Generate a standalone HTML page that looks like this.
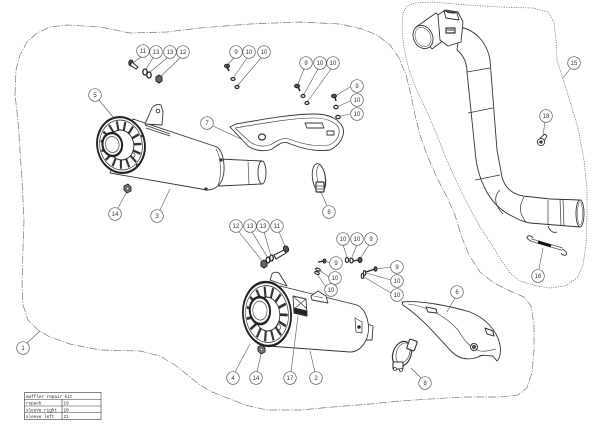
<!DOCTYPE html>
<html><head><meta charset="utf-8"><style>
html,body{margin:0;padding:0;background:#fff;}
svg{display:block}
</style></head><body>
<svg width="600" height="424" viewBox="0 0 600 424" xmlns="http://www.w3.org/2000/svg">
<rect width="600" height="424" fill="#fff"/>

<polyline fill="none" stroke="#777" stroke-width="0.7" stroke-dasharray="8,1.5,1.2,1.5" stroke-linejoin="round"
points="15,95 16,70 20,55 27,42 37,33 50,27 67,25 100,27 130,33 167,32 200,28 250,24 300,22 340,24 362,29 377,35 390,45 399,58 406,75 411,95 415,115 420,135 427,155 437,178 447,197 455,215 461,235 469,255 480,272 494,283 510,291 524,297 531,306 534,325 534,350 532,372 527,388 518,395 500,397 463,397 430,399 400,401 370,404 333,407 300,410 267,410 245,405 230,399 212,392 200,385 185,373 175,365 160,356 140,351 100,350 70,344 50,337 38,330 28,320 23,305 22,283 23,250 24,220 22,180 20,150 18,120 15,95"/>
<polyline fill="none" stroke="#666" stroke-width="0.7" stroke-dasharray="1.2,1.2" stroke-linejoin="round"
points="403,13 407,6 415,3 433,2 467,5 500,7 533,8 548,12 554,22 556,40 557,60 562,76 569,98 578,128 584,160 587,190 587,215 586,245 583,265 577,278 565,286 550,288 537,286 520,281 510,273 500,258 490,242 480,227 467,203 456,180 446,158 437,135 427,112 417,91 409,70 404,48 402,30 403,13"/>

<g stroke="#333" stroke-width="0.9" fill="#fff" stroke-linejoin="round">
  <path d="M457,50 C463,55 467,62 467,72 L475,150 C477,180 490,205 510,215 C518,219 523,222 530,223 L580,227 L580,200 L550,199 L523,196 C512,194 505,188 502,177 L497,150 L490,60 C487,42 475,30 460,27 Z"/>
  <path d="M467,72 L490,68 M468,113 L493,108 M475,180 L500,175" fill="none" stroke-width="0.7"/>
  <path d="M500,190 Q490,200 503,214 M524,197 Q516,210 526,222 M548,200 L548,225 M560,199 L561,226 M563,199 L564,226" fill="none" stroke-width="0.7"/>
  <ellipse cx="580" cy="213.5" rx="4" ry="13.5"/>
  <ellipse cx="580" cy="213.5" rx="2.5" ry="11.5" fill="none" stroke-width="0.5"/>
  <path d="M548,226 Q551,234 557,232" fill="none"/>
  <path d="M416,27 L436,13 L457,30 L432,49 Z"/>
  <path d="M438,15 L445,10 L458,12 L463,22 L461,42 L448,46 L440,40 Z"/>
  <path d="M444,11 L457,13 L459,20 L446,18 Z"/>
  <path d="M447,12 L455,13" stroke-width="1.5"/>
  <rect x="446" y="28" width="9" height="5" stroke-width="1.2"/>
  <path d="M447,30 L454,30" stroke-width="1"/>
  <ellipse cx="423" cy="37" rx="9.5" ry="12" transform="rotate(-25 423 37)"/>
  <ellipse cx="423" cy="37" rx="7.5" ry="10" transform="rotate(-25 423 37)" fill="none" stroke-width="0.5"/>
</g>

<g stroke="#333" fill="none" stroke-width="0.9">
  <path d="M531,241 Q525,238 528,236 Q531,235 533,238"/>
  <path d="M531,240 L562,249" stroke-width="3.2" stroke="#555"/>
  <path d="M531,240 L562,249" stroke-width="1.6" stroke="#fff"/>
  <path d="M538,242 L551,246" stroke-width="3" stroke="#111"/>
  <path d="M562,249 Q568,252 566,255 Q563,256 561,253"/>
</g>
<g stroke="#333" stroke-width="0.9" fill="#fff">
  <path d="M540,138 L545,134 L547,136 L544,141"/>
  <circle cx="541" cy="142" r="3.6"/>
  <circle cx="541" cy="142" r="1.2" fill="#333"/>
</g>

<g stroke="#333" stroke-width="0.9" fill="#fff" stroke-linejoin="round">
  <path d="M219,159 L262,161 L261,184 L219,186 Z"/>
  <path d="M248,161.5 L249,184.5" fill="none" stroke-width="0.6"/>
  <ellipse cx="262" cy="172.5" rx="4" ry="11.5"/>
  <path d="M133,119 L217,147 C224,152 226,170 222,180 C219,187 213,190 207,190 L110,173 Z"/>
  <path d="M216,149 C221,157 222,175 218,186" fill="none" stroke-width="0.6"/>
  <circle cx="221" cy="160" r="1.2" fill="#333"/>
  <circle cx="206" cy="189" r="1.2" fill="#333"/>
  <path d="M145,124 L152,108 Q156,103 161,105 L163,112 L162,125 Z"/>
  <circle cx="158" cy="111" r="1.8"/>
  <path d="M145,125 L170,134 M146,128 L170,136" fill="none" stroke-width="0.8"/>
</g>
<g transform="translate(121,145) rotate(-10) scale(0.85,1)">
  <circle r="28" fill="#fff" stroke="#222" stroke-width="2.2"/>
  <circle r="25" fill="none" stroke="#333" stroke-width="0.8"/>
  <g stroke="#333" stroke-width="2.4">
    <line x1="0" y1="-15" x2="0" y2="-24"/>
    <line x1="0" y1="-15" x2="0" y2="-24" transform="rotate(24)"/>
    <line x1="0" y1="-15" x2="0" y2="-24" transform="rotate(48)"/>
    <line x1="0" y1="-15" x2="0" y2="-24" transform="rotate(72)"/>
    <line x1="0" y1="-15" x2="0" y2="-24" transform="rotate(96)"/>
    <line x1="0" y1="-15" x2="0" y2="-24" transform="rotate(120)"/>
    <line x1="0" y1="-15" x2="0" y2="-24" transform="rotate(144)"/>
    <line x1="0" y1="-15" x2="0" y2="-24" transform="rotate(168)"/>
    <line x1="0" y1="-15" x2="0" y2="-24" transform="rotate(192)"/>
    <line x1="0" y1="-15" x2="0" y2="-24" transform="rotate(216)"/>
    <line x1="0" y1="-15" x2="0" y2="-24" transform="rotate(240)"/>
    <line x1="0" y1="-15" x2="0" y2="-24" transform="rotate(264)"/>
    <line x1="0" y1="-15" x2="0" y2="-24" transform="rotate(288)"/>
    <line x1="0" y1="-15" x2="0" y2="-24" transform="rotate(312)"/>
    <line x1="0" y1="-15" x2="0" y2="-24" transform="rotate(336)"/>
  </g>
  <circle r="15" fill="none" stroke="#222" stroke-width="1"/>
  <circle cx="-10" cy="-2" r="11.5" fill="#fff" stroke="#222" stroke-width="2.4"/>
  <circle cx="-10" cy="-2" r="8" fill="#fff" stroke="#444" stroke-width="0.8"/>
  <circle cx="12" cy="12" r="2.2" fill="#fff" stroke="#333" stroke-width="0.8"/>
</g>
<circle cx="142" cy="136" r="1.2" fill="#333"/>
<circle cx="137" cy="165" r="1.2" fill="#333"/>

<g stroke="#333" stroke-width="0.9" fill="#fff" stroke-linejoin="round">
  <path d="M230,127 L236,124 C260,120 290,114 315,114 C330,114 340,120 343,128 C345,136 340,145 330,150 C315,152 300,148 288,143 C282,141 278,145 272,149 C265,152 255,151 248,146 Z"/>
  <path d="M235,128 C260,124 290,118 314,118 C328,118 337,123 339,129 C340,136 336,142 329,145 C316,147 302,144 289,139 C281,137 276,142 270,145 C263,147 256,146 250,142 Z" fill="none" stroke-width="0.6"/>
  <ellipse cx="262" cy="137" rx="3.5" ry="3" stroke-width="1.2"/>
  <path d="M305,123 L322,123 L324,128 L307,128 Z M327,131 L334,131 L334,135 L327,135 Z" stroke-width="0.9"/>
</g>

<g stroke="#333" stroke-width="0.9" fill="#fff">
  <ellipse cx="319" cy="178" rx="6.5" ry="14.5" transform="rotate(-8 319 178)"/>
  <ellipse cx="321" cy="177" rx="4" ry="12" transform="rotate(-8 321 177)" fill="none" stroke-width="0.6"/>
  <rect x="316" y="182" width="8" height="10" rx="1" stroke-width="1.2"/>
  <path d="M317,186 L323,186 M317,189 L323,189" stroke-width="0.7"/>
</g>

<polygon points="124,186 128,184 131,187 131,191 127,193 124,190" fill="#777" stroke="#222" stroke-width="0.9"/>
<circle cx="127.5" cy="188.5" r="1.3" fill="#fff" stroke="#222" stroke-width="0.5"/>

<g stroke="#222" stroke-width="1" fill="#fff">
  <ellipse cx="131" cy="63" rx="2.2" ry="3" fill="#555"/>
  <path d="M132,62 L138,67 L136,69 L130,65 Z"/>
  <ellipse cx="145" cy="72" rx="2.2" ry="3" stroke-width="1.3"/>
  <ellipse cx="149" cy="75" rx="2.2" ry="3" stroke-width="1.3"/>
  <polygon points="156,77 159,75 162,77 162,81 159,83 156,81" fill="#666"/>
  <ellipse cx="227" cy="66" rx="2.5" ry="1.8" fill="#555"/>
  <path d="M227,67 L229,71" stroke-width="1.5"/>
  <ellipse cx="233" cy="79" rx="2" ry="1.5" stroke-width="1.2"/>
  <ellipse cx="237" cy="87" rx="2" ry="1.5" stroke-width="1.2"/>
  <ellipse cx="297" cy="86" rx="2.5" ry="1.8" fill="#555"/>
  <path d="M298,87 L300,91" stroke-width="1.5"/>
  <ellipse cx="303" cy="96" rx="2" ry="1.5" stroke-width="1.2"/>
  <ellipse cx="307" cy="103" rx="2" ry="1.5" stroke-width="1.2"/>
  <ellipse cx="334" cy="96" rx="2.5" ry="1.8" fill="#555"/>
  <path d="M335,97 L336,101" stroke-width="1.5"/>
  <ellipse cx="336" cy="107" rx="2.2" ry="1.6" stroke-width="1.2"/>
  <ellipse cx="338" cy="117" rx="2.2" ry="1.6" stroke-width="1.2"/>
</g>

<g stroke="#333" stroke-width="0.9" fill="#fff" stroke-linejoin="round">
  <path d="M362,322 L373,326 L372,340 L360,340 Z"/>
  <path d="M280,286 L357,305 C368,310 372,330 365,342 C361,349 356,352 350,352 L268,346 Z"/>
  <path d="M355,318 L362,322 L362,333 L356,332 Z" stroke-width="0.7"/>
  <circle cx="359" cy="327" r="1.3" fill="#222"/>
  <path d="M270,280 L272,274 Q274,271 279,273 L287,286 Z"/>
  <path d="M311,296 L318,291 L326,296 L328,303 L312,300 Z"/>
  <path d="M314,296 L323,298" fill="none" stroke-width="0.6"/>
  <path d="M293,296 L306,299 L307,316 L294,313 Z"/>
  <path d="M294,297 L306,308 M306,299 L294,309" fill="none" stroke-width="0.6"/>
  <path d="M294,308 L307,311 L307,316 L294,313 Z" fill="#222"/>
</g>
<g transform="translate(267,314) rotate(-5) scale(0.75,1)">
  <circle r="32" fill="#fff" stroke="#222" stroke-width="2.4"/>
  <circle r="28.5" fill="none" stroke="#333" stroke-width="0.8"/>
  <g stroke="#333" stroke-width="2.8">
    <line x1="0" y1="-17" x2="0" y2="-27.5"/>
    <line x1="0" y1="-17" x2="0" y2="-27.5" transform="rotate(24)"/>
    <line x1="0" y1="-17" x2="0" y2="-27.5" transform="rotate(48)"/>
    <line x1="0" y1="-17" x2="0" y2="-27.5" transform="rotate(72)"/>
    <line x1="0" y1="-17" x2="0" y2="-27.5" transform="rotate(96)"/>
    <line x1="0" y1="-17" x2="0" y2="-27.5" transform="rotate(120)"/>
    <line x1="0" y1="-17" x2="0" y2="-27.5" transform="rotate(144)"/>
    <line x1="0" y1="-17" x2="0" y2="-27.5" transform="rotate(168)"/>
    <line x1="0" y1="-17" x2="0" y2="-27.5" transform="rotate(192)"/>
    <line x1="0" y1="-17" x2="0" y2="-27.5" transform="rotate(216)"/>
    <line x1="0" y1="-17" x2="0" y2="-27.5" transform="rotate(240)"/>
    <line x1="0" y1="-17" x2="0" y2="-27.5" transform="rotate(264)"/>
    <line x1="0" y1="-17" x2="0" y2="-27.5" transform="rotate(288)"/>
    <line x1="0" y1="-17" x2="0" y2="-27.5" transform="rotate(312)"/>
    <line x1="0" y1="-17" x2="0" y2="-27.5" transform="rotate(336)"/>
  </g>
  <circle r="17" fill="none" stroke="#222" stroke-width="1"/>
  <circle cx="-9" cy="-4" r="13.5" fill="#fff" stroke="#222" stroke-width="2.6"/>
  <circle cx="-9" cy="-4" r="9.5" fill="#fff" stroke="#444" stroke-width="0.8"/>
  <circle cx="14" cy="14" r="2.5" fill="#fff" stroke="#333" stroke-width="0.8"/>
</g>

<g stroke="#333" stroke-width="0.9" fill="#fff" stroke-linejoin="round">
  <path d="M402,302 C420,300 450,306 470,312 C485,318 497,330 500,345 C501,352 500,358 497,361 L493,356 C488,356 482,354 478,357 C470,360 460,360 452,352 C440,340 425,320 403,305 Z"/>
  <path d="M408,304 C425,306 445,315 458,330 C464,340 470,348 480,351 C486,352 492,350 496,349" fill="none" stroke-width="0.6"/>
  <path d="M426,307 L436,309 L437,313 L428,312 Z" stroke-width="1"/>
  <path d="M485,328 L493,331 L494,336 L487,334 Z" stroke-width="1"/>
  <circle cx="474" cy="347" r="3.5" stroke-width="1"/>
  <circle cx="474" cy="347" r="1.8" fill="#555" stroke-width="0.5"/>
</g>

<g stroke="#333" stroke-width="0.9" fill="#fff">
  <ellipse cx="402" cy="354" rx="9" ry="13" transform="rotate(20 402 354)" stroke-width="1.2"/>
  <ellipse cx="403" cy="353" rx="6.5" ry="10.5" transform="rotate(20 403 353)" fill="none" stroke-width="0.6"/>
  <rect x="408" y="340" width="8" height="10" rx="1" transform="rotate(20 412 345)" stroke-width="1.1"/>
  <rect x="393" y="362" width="10" height="7" rx="1" stroke-width="1.1"/>
  <circle cx="395" cy="369" r="1.5" stroke-width="0.8"/>
  <circle cx="401" cy="370" r="1.5" stroke-width="0.8"/>
</g>

<polygon points="258,347 262,345 265,348 265,352 261,354 258,351" fill="#777" stroke="#222" stroke-width="0.9"/>
<circle cx="261.5" cy="349.5" r="1.3" fill="#fff" stroke="#222" stroke-width="0.5"/>

<g stroke="#222" stroke-width="1" fill="#fff">
  <polygon points="261,262 264,260 267,262 267,266 264,268 261,266" fill="#666"/>
  <ellipse cx="268" cy="260" rx="1.8" ry="3" stroke-width="1.3"/>
  <ellipse cx="271.5" cy="258" rx="1.8" ry="3" stroke-width="1.3"/>
  <path d="M274,255 L284,250 L286,253 L276,259 Z"/>
  <ellipse cx="286" cy="249" rx="2.5" ry="3.2" fill="#555" transform="rotate(-25 286 249)"/>
  <ellipse cx="347" cy="260" rx="1.6" ry="2.4" stroke-width="1.2"/>
  <ellipse cx="351.5" cy="260.5" rx="1.6" ry="2.4" stroke-width="1.2"/>
  <path d="M353,261 L358,260" stroke-width="1.3"/>
  <ellipse cx="360" cy="260" rx="2" ry="2.6" fill="#555"/>
  <path d="M318,262 L324,261" stroke-width="1.3"/>
  <ellipse cx="324.5" cy="261" rx="1.5" ry="2" fill="#555"/>
  <ellipse cx="318" cy="269.5" rx="2.4" ry="1.2" stroke-width="1.1" transform="rotate(25 318 269.5)"/>
  <ellipse cx="317" cy="273" rx="2.4" ry="1.2" stroke-width="1.1" transform="rotate(25 317 273)"/>
  <path d="M366,272 L375,269" stroke-width="1.4"/>
  <ellipse cx="375.5" cy="269" rx="1.5" ry="2.3" fill="#555"/>
  <ellipse cx="364.5" cy="273" rx="1.2" ry="2.4" stroke-width="1.1"/>
  <ellipse cx="362.5" cy="276" rx="1.2" ry="2.4" stroke-width="1.1"/>
</g>

<g stroke="#555" stroke-width="0.6" fill="none">
  <path d="M141,57 L134,62"/>
  <path d="M153,58 L146,69"/>
  <path d="M167,58 L150,72"/>
  <path d="M180,58 L161,76"/>
  <path d="M234,58 L228,64"/>
  <path d="M247,58 L234,77"/>
  <path d="M261,58 L238,85"/>
  <path d="M304,69 L298,84"/>
  <path d="M318,69 L304,94"/>
  <path d="M331,69 L308,101"/>
  <path d="M350,87 L337,95"/>
  <path d="M350,101 L339,106"/>
  <path d="M350,114 L341,116"/>
  <path d="M99,100 L113,117"/>
  <path d="M160,210 L170,189"/>
  <path d="M118,208 L126,193"/>
  <path d="M213,126 L243,140"/>
  <path d="M327,206 L321,192"/>
  <path d="M570,69 L563,78"/>
  <path d="M545,122 L543,135"/>
  <path d="M539,269 L543,248"/>
  <path d="M27,343 L40,331"/>
  <path d="M239,232 L263,262"/>
  <path d="M252,232 L268,258"/>
  <path d="M264,232 L271,256"/>
  <path d="M279,232 L285,246"/>
  <path d="M343,245 L347,257"/>
  <path d="M357,245 L352,257"/>
  <path d="M369,245 L361,257"/>
  <path d="M330,263 L325,261"/>
  <path d="M329,277 L319,270"/>
  <path d="M326,287 L317,274"/>
  <path d="M391,267 L376,269"/>
  <path d="M391,280 L366,273"/>
  <path d="M391,293 L364,277"/>
  <path d="M455,298 L447,312"/>
  <path d="M235,372 L250,344"/>
  <path d="M257,372 L261,354"/>
  <path d="M291,372 L298,316"/>
  <path d="M315,372 L310,351"/>
  <path d="M421,378 L411,368"/>
</g>

<g fill="#fff" stroke="#555" stroke-width="0.7">
  <circle cx="143" cy="51" r="6.3"/><circle cx="156" cy="52" r="6.3"/><circle cx="170" cy="52" r="6.3"/><circle cx="183" cy="52" r="6.3"/>
  <circle cx="236" cy="52" r="6.3"/><circle cx="249" cy="52" r="6.3"/><circle cx="264" cy="52" r="6.3"/>
  <circle cx="306" cy="63" r="6.3"/><circle cx="320" cy="63" r="6.3"/><circle cx="333" cy="63" r="6.3"/>
  <circle cx="357" cy="86" r="6.3"/><circle cx="357" cy="100" r="6.3"/><circle cx="357" cy="114" r="6.3"/>
  <circle cx="95" cy="95" r="6.3"/><circle cx="207" cy="123" r="6.3"/>
  <circle cx="115" cy="214" r="6.3"/><circle cx="157" cy="216" r="6.3"/>
  <circle cx="329" cy="212" r="6.3"/>
  <circle cx="574" cy="63" r="6.3"/><circle cx="546" cy="116" r="6.3"/><circle cx="538" cy="276" r="6.3"/>
  <circle cx="236" cy="226" r="6.3"/><circle cx="250" cy="226" r="6.3"/><circle cx="263" cy="226" r="6.3"/><circle cx="277" cy="226" r="6.3"/>
  <circle cx="343" cy="239" r="6.3"/><circle cx="357" cy="239" r="6.3"/><circle cx="371" cy="239" r="6.3"/>
  <circle cx="336" cy="263" r="6.3"/><circle cx="335" cy="278" r="6.3"/><circle cx="331" cy="290" r="6.3"/>
  <circle cx="397" cy="267" r="6.3"/><circle cx="397" cy="281" r="6.3"/><circle cx="397" cy="295" r="6.3"/>
  <circle cx="457" cy="292" r="6.3"/>
  <circle cx="233" cy="378" r="6.3"/><circle cx="256" cy="378" r="6.3"/><circle cx="290" cy="378" r="6.3"/><circle cx="316" cy="378" r="6.3"/>
  <circle cx="425" cy="383" r="6.3"/>
  <circle cx="23" cy="348" r="6.3"/>
</g>
<g font-family="'Liberation Sans', sans-serif" font-size="6" text-anchor="middle" fill="#333">
  <text x="143" y="53.2">11</text><text x="156" y="54.2">13</text><text x="170" y="54.2">13</text><text x="183" y="54.2">12</text>
  <text x="236" y="54.2">9</text><text x="249" y="54.2">10</text><text x="264" y="54.2">10</text>
  <text x="306" y="65.2">9</text><text x="320" y="65.2">10</text><text x="333" y="65.2">10</text>
  <text x="357" y="88.2">9</text><text x="357" y="102.2">10</text><text x="357" y="116.2">10</text>
  <text x="95" y="97.2">5</text><text x="207" y="125.2">7</text>
  <text x="115" y="216.2">14</text><text x="157" y="218.2">3</text>
  <text x="329" y="214.2">8</text>
  <text x="574" y="65.2">15</text><text x="546" y="118.2">18</text><text x="538" y="278.2">16</text>
  <text x="236" y="228.2">12</text><text x="250" y="228.2">13</text><text x="263" y="228.2">13</text><text x="277" y="228.2">11</text>
  <text x="343" y="241.2">10</text><text x="357" y="241.2">10</text><text x="371" y="241.2">9</text>
  <text x="336" y="265.2">9</text><text x="335" y="280.2">10</text><text x="331" y="292.2">10</text>
  <text x="397" y="269.2">9</text><text x="397" y="283.2">10</text><text x="397" y="297.2">10</text>
  <text x="457" y="294.2">6</text>
  <text x="233" y="380.2">4</text><text x="256" y="380.2">14</text><text x="290" y="380.2">17</text><text x="316" y="380.2">2</text>
  <text x="425" y="385.2">8</text>
  <text x="23" y="350.2">1</text>
</g>

<g stroke="#333" stroke-width="0.6" fill="none">
  <rect x="24.5" y="392.5" width="76.5" height="27"/>
  <line x1="24.5" y1="399.25" x2="101" y2="399.25"/>
  <line x1="24.5" y1="406" x2="101" y2="406"/>
  <line x1="24.5" y1="412.75" x2="101" y2="412.75"/>
  <line x1="62" y1="399.25" x2="62" y2="419.5"/>
</g>
<g font-family="'Liberation Mono', monospace" font-size="4.3" fill="#222">
  <text x="26" y="397.8">muffler repair kit</text>
  <text x="26" y="404.5">repack</text><text x="63.5" y="404.5">19</text>
  <text x="26" y="411.3">sleeve right</text><text x="63.5" y="411.3">20</text>
  <text x="26" y="418">sleeve left</text><text x="63.5" y="418">21</text>
</g>
</svg>
</body></html>
